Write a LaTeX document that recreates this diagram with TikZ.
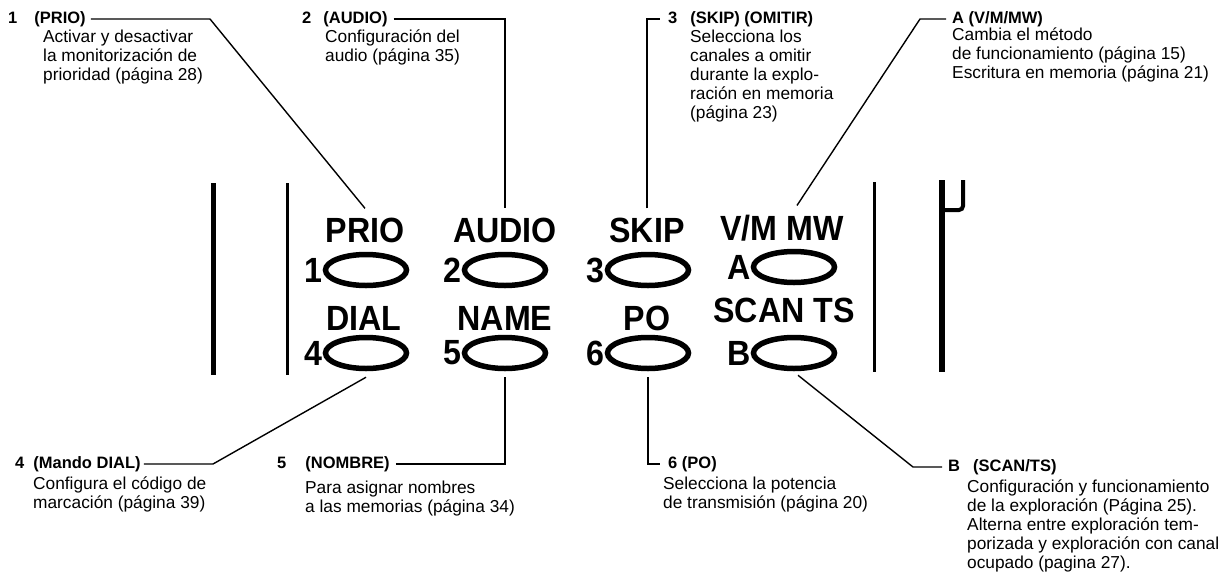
\documentclass[tikz,border=0pt]{standalone}
\usepackage{fontspec}
\setmainfont{Liberation Sans}
\newfontfamily\keyfamily[FakeStretch=0.92]{Liberation Sans}
\usetikzlibrary{
	positioning,
	shapes.geometric
}

\tikzset{
	lead/.style={line width=1.4pt},
	bar/.style={line width=#1},
	keyoval/.style={draw, ellipse, line width=5.5pt, minimum width=81pt, minimum height=31pt, inner sep=0pt},
	keylabel/.style={font=\keyfamily\bfseries\fontsize{35}{35}\selectfont, inner sep=0pt, anchor=base},
	keydigit/.style={font=\keyfamily\bfseries\fontsize{35}{35}\selectfont, inner sep=0pt},
	head/.style={font=\bfseries\fontsize{16.5}{19}\selectfont, inner sep=0pt, anchor=west},
	note/.style={font=\fontsize{17.3}{19}\selectfont, inner sep=0pt, anchor=north west, align=left}
}

\begin{document}
\begin{tikzpicture}[x=1pt, y=-1pt]
	\path[fill=white, use as bounding box] (0,0) rectangle (1229,587);

	% panel edges
	\draw[bar=5pt] (213,183) -- (213,375);
	\draw[bar=3pt] (287,183) -- (287,375);
	\draw[bar=3pt] (874,182) -- (874,372);
	\draw[bar=6pt] (942,180) -- (942,372);
	\draw[bar=4pt, rounded corners=4pt] (942,210) -| (963,180);

	% keys
	\node[keyoval] (o1) at (366,270) {};
	\node[keyoval] (o2) at (505,270) {};
	\node[keyoval] (o3) at (648,270) {};
	\node[keyoval] (oA) at (794,267) {};
	\node[keyoval] (o4) at (366,353) {};
	\node[keyoval] (o5) at (505,353) {};
	\node[keyoval] (o6) at (648,353) {};
	\node[keyoval] (oB) at (794,353) {};

	\node[keydigit, left=0pt of o1] (d1) {1};
	\node[keydigit, left=0pt of o2] (d2) {2};
	\node[keydigit, left=0pt of o3] (d3) {3};
	\node[keydigit, left=0pt of oA] (dA) {A};
	\node[keydigit, left=0pt of o4] (d4) {4};
	\node[keydigit, left=0pt of o5] (d5) {5};
	\node[keydigit, left=0pt of o6] (d6) {6};
	\node[keydigit, left=0pt of oB] (dB) {B};

	\node[keylabel] (lPRIO) at (365,242) {PRIO};
	\node[keylabel] (lAUDIO) at (505,242) {AUDIO};
	\node[keylabel] (lSKIP) at (647,242) {SKIP};
	\node[keylabel] (lVM) at (782,240) {V/M MW};
	\node[keylabel] (lDIAL) at (364,330) {DIAL};
	\node[keylabel] (lNAME) at (505,330) {NAME};
	\node[keylabel] (lPO) at (647,330) {PO};
	\node[keylabel] (lSCAN) at (784,322) {SCAN TS};

	% top notes
	\node[head] (h1) at (8,19) {1\hspace{17pt}(PRIO)};
	\node[note] (n1) at (43,30) {Activar y desactivar\\la monitorización de\\prioridad (página 28)};
	\node[head] (h2) at (302,19) {2\hspace{12pt}(AUDIO)};
	\node[note] (n2) at (325,30) {Configuración del\\audio (página 35)};
	\node[head] (h3) at (668,19) {3\hspace{13pt}(SKIP) (OMITIR)};
	\node[note] (n3) at (690,30) {Selecciona los\\canales a omitir\\durante la explo-\\ración en memoria\\(página 23)};
	\node[head] (hA) at (952,19) {A (V/M/MW)};
	\node[note] (nA) at (952,28) {Cambia el método\\de funcionamiento (página 15)\\Escritura en memoria (página 21)};

	% bottom notes
	\node[head] (h4) at (15,464) {4\hspace{9pt}(Mando DIAL)};
	\node[note] (n4) at (33,477) {Configura el código de\\marcación (página 39)};
	\node[head] (h5) at (277,464) {5\hspace{19pt}(NOMBRE)};
	\node[note] (n5) at (305,481) {Para asignar nombres\\a las memorias (página 34)};
	\node[head] (h6) at (668,464) {6 (PO)};
	\node[note] (n6) at (663,477) {Selecciona la potencia\\de transmisión (página 20)};
	\node[head] (hB) at (948,467) {B\hspace{13pt}(SCAN/TS)};
	\node[note] (nB) at (967,480) {Configuración y funcionamiento\\de la exploración (Página 25).\\Alterna entre exploración tem-\\porizada y exploración con canal\\ocupado (pagina 27).};

	% leaders
	\coordinate (c1) at (210,19);
	\coordinate (cA) at (920,19);
	\coordinate (c4) at (213,464);
	\coordinate (cB) at (913,467);
	\draw[lead] ([xshift=5pt]h1.east) -- (c1) -- ([yshift=9pt]lPRIO.north);
	\draw[lead] ([xshift=6pt]h2.east) -| ([yshift=9pt]lAUDIO.north);
	\draw[lead] ([yshift=9pt]lSKIP.north) |- ([xshift=-8pt]h3.west);
	\draw[lead] ([xshift=15pt,yshift=9pt]lVM.north) -- (cA) -- ([xshift=-6pt]hA.west);
	\draw[lead] ([xshift=3pt]h4.east) -- (c4) -- ([yshift=-6pt]o4.south);
	\draw[lead] ([xshift=6pt]h5.east) -| ([yshift=-6pt]o5.south);
	\draw[lead] ([yshift=-6pt]o6.south) |- ([xshift=-8pt]h6.west);
	\draw[lead] ([xshift=4pt,yshift=-4pt]oB.south) -- (cB) -- ([xshift=-6pt]hB.west);
\end{tikzpicture}
\end{document}
